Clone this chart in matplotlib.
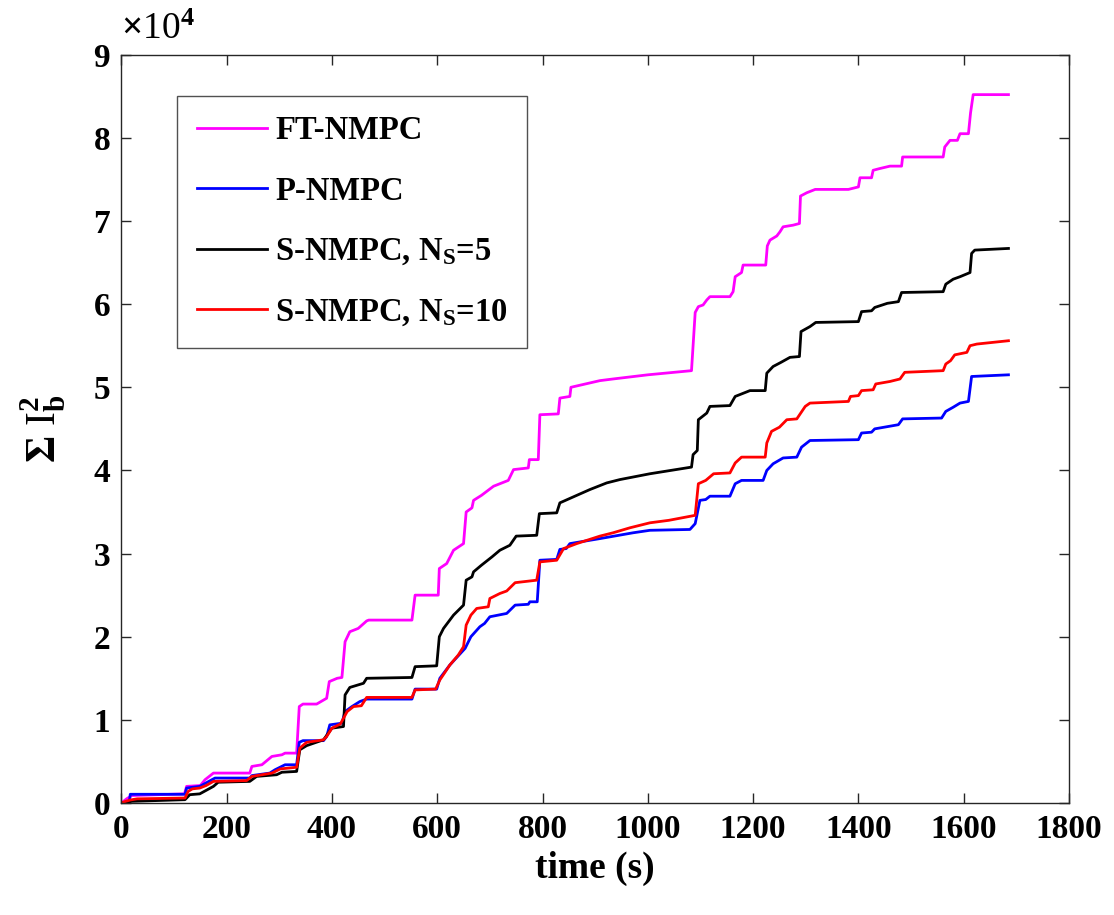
import matplotlib
matplotlib.use("Agg")
import matplotlib.pyplot as plt
from matplotlib.ticker import FuncFormatter
import numpy as np

plt.rcParams['font.family'] = ['Liberation Serif', 'DejaVu Serif']
plt.rcParams['font.weight'] = 'bold'
plt.rcParams['mathtext.fontset'] = 'custom'
plt.rcParams['mathtext.rm'] = 'Liberation Serif:bold'
plt.rcParams['mathtext.bf'] = 'Liberation Serif:bold'
plt.rcParams['mathtext.it'] = 'Liberation Serif:bold:italic'
plt.rcParams['mathtext.sf'] = 'Liberation Serif'

SCALE = 1e4  # values below are in units of 10^4

labels = ['FT-NMPC', 'P-NMPC', r'S-NMPC, N$_{\mathbf{S}}$=5', r'S-NMPC, N$_{\mathbf{S}}$=10']
colors = ['#ff00ff', '#0000ff', '#000000', '#ff0000']

t_ft = [0, 10, 20, 120, 124, 150, 159, 175, 244, 248, 267, 286, 305, 311, 333, 338, 345, 371, 390, 395,
        410, 419, 425, 434, 450, 466, 470, 552, 558, 602, 604, 618, 631, 650, 655, 666, 669, 684, 707, 735,
        745, 773, 775, 792, 795, 830, 833, 852, 854, 909, 934, 1000, 1083, 1086, 1090, 1096, 1105, 1112, 1118, 1156,
        1162, 1166, 1178, 1181, 1224, 1227, 1232, 1245, 1251, 1257, 1276, 1288, 1290, 1302, 1318, 1381, 1400, 1403, 1425, 1428,
        1440, 1460, 1482, 1484, 1561, 1564, 1574, 1588, 1593, 1609, 1613, 1618, 1685]
y_ft = [0, 0.05, 0.09, 0.11, 0.20, 0.21, 0.28, 0.36, 0.36, 0.44, 0.46, 0.56, 0.58, 0.60, 0.60, 1.16, 1.19, 1.19, 1.26, 1.46,
        1.50, 1.51, 1.94, 2.06, 2.10, 2.19, 2.20, 2.20, 2.50, 2.50, 2.82, 2.88, 3.04, 3.12, 3.50, 3.55, 3.64, 3.70, 3.81, 3.88,
        4.01, 4.03, 4.13, 4.13, 4.67, 4.68, 4.87, 4.89, 5.00, 5.08, 5.10, 5.15, 5.20, 5.50, 5.90, 5.97, 5.99, 6.05, 6.09, 6.09,
        6.15, 6.33, 6.38, 6.47, 6.47, 6.70, 6.77, 6.82, 6.87, 6.93, 6.95, 6.97, 7.30, 7.34, 7.38, 7.38, 7.41, 7.52, 7.52, 7.61,
        7.63, 7.66, 7.66, 7.77, 7.77, 7.89, 7.97, 7.97, 8.05, 8.05, 8.30, 8.52, 8.52]

t_p = [0, 15, 17, 121, 124, 149, 172, 178, 244, 248, 282, 292, 311, 333, 338, 345, 384, 390, 396, 419,
       425, 438, 453, 466, 552, 558, 599, 605, 624, 653, 664, 681, 690, 700, 732, 748, 773, 776, 790, 795,
       827, 833, 845, 852, 909, 972, 1004, 1080, 1090, 1099, 1110, 1118, 1156, 1166, 1178, 1219, 1226, 1238, 1257, 1283,
       1292, 1308, 1400, 1406, 1425, 1431, 1476, 1484, 1558, 1566, 1580, 1593, 1609, 1615, 1685]
y_p = [0, 0, 0.105, 0.105, 0.18, 0.20, 0.28, 0.30, 0.30, 0.33, 0.36, 0.40, 0.46, 0.46, 0.73, 0.75, 0.75, 0.80, 0.94, 0.96,
       1.10, 1.16, 1.22, 1.25, 1.25, 1.37, 1.37, 1.50, 1.66, 1.86, 2.00, 2.12, 2.16, 2.24, 2.28, 2.38, 2.39, 2.42, 2.42, 2.92,
       2.93, 3.05, 3.06, 3.12, 3.18, 3.25, 3.28, 3.29, 3.36, 3.64, 3.65, 3.69, 3.69, 3.84, 3.88, 3.88, 4.00, 4.08, 4.15, 4.16,
       4.28, 4.36, 4.37, 4.45, 4.46, 4.50, 4.55, 4.62, 4.63, 4.71, 4.76, 4.81, 4.83, 5.13, 5.15]

t_s5 = [0, 10, 20, 121, 130, 149, 175, 184, 244, 257, 295, 305, 333, 339, 352, 384, 400, 422, 425, 434,
        460, 466, 552, 558, 599, 604, 612, 631, 650, 655, 666, 669, 684, 704, 719, 738, 750, 789, 794, 827,
        833, 865, 890, 922, 947, 1004, 1083, 1086, 1094, 1096, 1112, 1118, 1156, 1166, 1194, 1223, 1226, 1238, 1253, 1270,
        1288, 1291, 1308, 1319, 1400, 1406, 1425, 1431, 1455, 1476, 1482, 1561, 1566, 1580, 1593, 1612, 1615, 1621, 1685]
y_s5 = [0, 0.01, 0.02, 0.04, 0.10, 0.11, 0.20, 0.25, 0.26, 0.32, 0.34, 0.37, 0.38, 0.64, 0.69, 0.76, 0.90, 0.92, 1.30, 1.39,
        1.44, 1.50, 1.51, 1.64, 1.65, 2.00, 2.10, 2.26, 2.38, 2.68, 2.72, 2.78, 2.86, 2.96, 3.04, 3.10, 3.21, 3.22, 3.48, 3.49,
        3.61, 3.70, 3.77, 3.85, 3.89, 3.96, 4.04, 4.19, 4.24, 4.61, 4.69, 4.77, 4.78, 4.89, 4.96, 4.96, 5.17, 5.25, 5.30, 5.36,
        5.37, 5.67, 5.73, 5.78, 5.79, 5.91, 5.92, 5.96, 6.01, 6.03, 6.14, 6.15, 6.24, 6.30, 6.33, 6.38, 6.61, 6.65, 6.67]

t_s10 = [0, 8, 17, 30, 121, 127, 135, 149, 161, 175, 238, 248, 286, 302, 333, 339, 352, 384, 390, 400,
         416, 429, 441, 456, 466, 552, 558, 597, 605, 624, 640, 650, 655, 664, 675, 697, 700, 719, 732, 748,
         789, 795, 827, 840, 865, 909, 934, 966, 1004, 1040, 1090, 1096, 1110, 1125, 1156, 1166, 1178, 1223, 1226, 1235,
         1250, 1264, 1283, 1299, 1308, 1381, 1385, 1400, 1406, 1428, 1433, 1460, 1479, 1488, 1561, 1566, 1575, 1583, 1606, 1612,
         1625, 1685]
y_s10 = [0, 0.02, 0.036, 0.05, 0.06, 0.14, 0.17, 0.18, 0.21, 0.26, 0.27, 0.32, 0.36, 0.41, 0.43, 0.66, 0.73, 0.76, 0.80, 0.90,
         0.95, 1.10, 1.16, 1.17, 1.27, 1.27, 1.36, 1.37, 1.48, 1.66, 1.78, 1.88, 2.14, 2.26, 2.34, 2.36, 2.46, 2.52, 2.55, 2.65,
         2.68, 2.90, 2.92, 3.06, 3.12, 3.21, 3.25, 3.31, 3.37, 3.40, 3.46, 3.84, 3.88, 3.96, 3.97, 4.09, 4.16, 4.16, 4.33, 4.47,
         4.52, 4.61, 4.62, 4.77, 4.81, 4.83, 4.89, 4.90, 4.96, 4.97, 5.04, 5.07, 5.10, 5.18, 5.20, 5.28, 5.32, 5.39, 5.42, 5.50,
         5.52, 5.56]

x_ticks = [0, 200, 400, 600, 800, 1000, 1200, 1400, 1600, 1800]
y_ticks = [0, 1, 2, 3, 4, 5, 6, 7, 8, 9]

fig = plt.figure(figsize=(11.14, 9.15), dpi=100)
ax = fig.add_axes([0.1089, 0.1224, 0.9596 - 0.1089, 0.9402 - 0.1224])

series = [(t_ft, y_ft), (t_p, y_p), (t_s5, y_s5), (t_s10, y_s10)]
for (t, y), c, lab in zip(series, colors, labels):
    ax.plot(t, np.array(y) * SCALE, color=c, lw=2.0, label=lab)

ax.set_xlim(0, 1800)
ax.set_ylim(0, 9 * SCALE)
ax.set_xticks(x_ticks)
ax.set_yticks([v * SCALE for v in y_ticks])
ax.yaxis.set_major_formatter(FuncFormatter(lambda v, p: f"{v / SCALE:g}"))
ax.tick_params(direction='in', length=7, width=1.0, top=True, right=True,
               labelsize=24, color='#262626', pad=8)
for lab in ax.get_xticklabels() + ax.get_yticklabels():
    lab.set_fontweight('bold')
for s in ax.spines.values():
    s.set_color('#262626')
    s.set_linewidth(1.0)

ax.set_xlabel('time (s)', fontsize=27, fontweight='bold', labelpad=4)
ax.set_ylabel(r'$\mathsf{\Sigma}$ I$_{\mathbf{b}}^{\mathbf{2}}$', fontsize=30, labelpad=18)

ax.text(0.0, 1.010, r'$\times$10$^{4}$', transform=ax.transAxes, fontsize=27,
        fontweight='normal', ha='left', va='bottom', family=['Liberation Serif'])

leg = ax.legend(loc='upper left', bbox_to_anchor=(0.0588, 0.945), borderaxespad=0,
                fontsize=23.5, frameon=True, fancybox=False, edgecolor='#262626',
                handlelength=2.15, handletextpad=0.25, labelspacing=0.9, borderpad=0.6)
leg.get_frame().set_linewidth(1.0)
for txt in leg.get_texts():
    txt.set_fontweight('bold')

fig.savefig('out.png', dpi=100)
